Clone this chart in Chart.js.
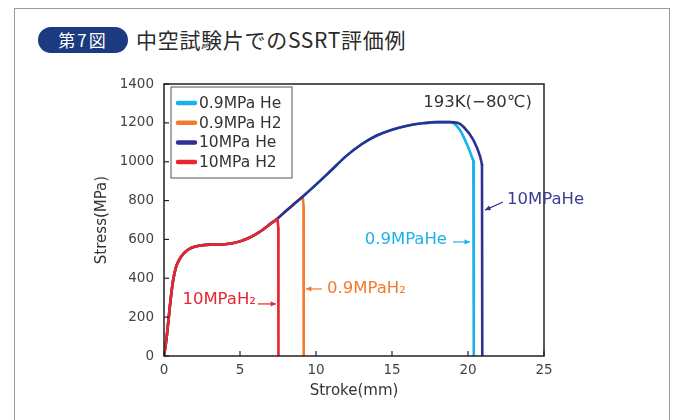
<!DOCTYPE html>
<html>
<head>
<meta charset="utf-8">
<script src="https://cdn.jsdelivr.net/npm/chart.js@4"></script>
<style>
  body { margin: 0; width: 675px; height: 420px; overflow: hidden; background: #fff; font-family: "Noto Sans CJK JP", "Noto Sans", sans-serif; }
  .frame { position: absolute; left: 14px; top: 8px; width: 654px; height: 440px; border: 1.5px solid #9a9a9a; }
  .badge { position: absolute; left: 38px; top: 27px; width: 90px; height: 26px; border-radius: 13px; background: #1b3a80; color: #fff; font-size: 17px; line-height: 26px; text-align: center; letter-spacing: 2px; }
  .title { position: absolute; left: 136px; top: 23px; font-size: 21px; line-height: 32px; color: #2a2a2a; font-weight: 400; letter-spacing: 0.7px; }
  #wrap { position: absolute; left: 0; top: 0; width: 675px; height: 420px; }
</style>
</head>
<body>
<div class="frame"></div>
<div class="badge">第7図</div>
<div class="title">中空試験片でのSSRT評価例</div>
<div id="wrap"><canvas id="ssrtChart" width="675" height="420"></canvas></div>
<script>
const seriesNames = ['0.9MPa He', '0.9MPa H2', '10MPa He', '10MPa H2'];
const seriesColors = ['#1cb1eb', '#f47a2c', '#2e3192', '#e82530'];

// common loading curve (stroke mm / stress MPa)
const baseStroke = [0, 0.15, 0.3, 0.45, 0.6, 0.8, 1.0, 1.3, 1.6, 2.0, 2.5, 3.0, 3.5, 4.0, 4.5, 5.0, 5.5, 6.0, 6.5, 7.0, 7.4];
const baseStress = [0, 80, 190, 300, 390, 460, 495, 528, 548, 562, 570, 573, 573, 575, 580, 590, 605, 625, 650, 680, 703];
const midStroke = [8.0, 8.5, 9.06, 10.0, 10.9, 12.0, 13.0, 14.0, 15.0, 16.0, 17.0, 18.0, 18.8];
const midStress = [745, 779, 816, 882, 948, 1030, 1090, 1135, 1165, 1185, 1198, 1204, 1204];

// softening before rupture
const he09Stroke = [19.1, 19.47, 20.0, 20.35];
const he09Stress = [1196, 1163, 1077, 1005];
const he10Stroke = [19.3, 19.7, 20.35, 20.8, 20.92];
const he10Stress = [1200, 1180, 1112, 1026, 985];

// rupture drops
const dropStroke = [
  [20.35, 20.38],
  [9.06, 9.14, 9.18, 9.19],
  [20.92, 20.94],
  [7.4, 7.48, 7.52, 7.53]
];
const dropStress = [
  [1005, 0],
  [816, 808, 772, 0],
  [985, 0],
  [703, 696, 660, 0]
];

const xTicks = [0, 5, 10, 15, 20, 25];
const yTicks = [0, 200, 400, 600, 800, 1000, 1200, 1400];

function pts(xs, ys) {
  return xs.map((x, i) => ({ x: x, y: ys[i] }));
}

const curves = [
  pts([...baseStroke, ...midStroke, ...he09Stroke], [...baseStress, ...midStress, ...he09Stress]),
  pts([...baseStroke, ...midStroke.slice(0, 3)], [...baseStress, ...midStress.slice(0, 3)]),
  pts([...baseStroke, ...midStroke, ...he10Stroke], [...baseStress, ...midStress, ...he10Stress]),
  pts(baseStroke, baseStress)
];
const drawOrder = [4, 3, 2, 1];

const FONT = '"DejaVu Sans", "Noto Sans", sans-serif';

const decorPlugin = {
  id: 'decor',
  afterDatasetsDraw(chart) {
    const { ctx, chartArea: a, scales: { x, y } } = chart;
    ctx.save();
    // frame
    ctx.strokeStyle = '#222';
    ctx.lineWidth = 1.5;
    ctx.strokeRect(a.left, a.top, a.right - a.left, a.bottom - a.top);
    // inward ticks
    ctx.lineWidth = 1.2;
    xTicks.forEach(v => {
      const px = x.getPixelForValue(v);
      ctx.beginPath(); ctx.moveTo(px, a.bottom); ctx.lineTo(px, a.bottom - 5); ctx.stroke();
    });
    yTicks.forEach(v => {
      const py = y.getPixelForValue(v);
      ctx.beginPath(); ctx.moveTo(a.left, py); ctx.lineTo(a.left + 5, py); ctx.stroke();
    });

    // legend
    const lx = 171, ly = 87;
    ctx.fillStyle = '#fff';
    ctx.fillRect(lx, ly, 121, 91);
    ctx.strokeStyle = '#555';
    ctx.lineWidth = 1;
    ctx.strokeRect(lx, ly, 121, 91);
    ctx.font = '15.5px ' + FONT;
    ctx.textBaseline = 'middle';
    ctx.textAlign = 'left';
    seriesNames.forEach((name, i) => {
      const ry = 103 + i * 19.7;
      ctx.strokeStyle = seriesColors[i];
      ctx.lineWidth = 4.5;
      ctx.lineCap = 'round';
      ctx.beginPath(); ctx.moveTo(178, ry); ctx.lineTo(195, ry); ctx.stroke();
      ctx.fillStyle = '#333';
      ctx.fillText(name, 199, ry + 1);
    });

    // annotations
    const X = v => x.getPixelForValue(v);
    const Y = v => y.getPixelForValue(v);
    function arrow(x1, y1, x2, y2, color) {
      ctx.strokeStyle = color;
      ctx.fillStyle = color;
      ctx.lineWidth = 1.2;
      ctx.lineCap = 'butt';
      ctx.beginPath(); ctx.moveTo(x1, y1); ctx.lineTo(x2, y2); ctx.stroke();
      const ang = Math.atan2(y2 - y1, x2 - x1);
      ctx.beginPath();
      ctx.moveTo(x2, y2);
      ctx.lineTo(x2 - 6 * Math.cos(ang - 0.45), y2 - 6 * Math.sin(ang - 0.45));
      ctx.lineTo(x2 - 6 * Math.cos(ang + 0.45), y2 - 6 * Math.sin(ang + 0.45));
      ctx.closePath();
      ctx.fill();
    }
    ctx.font = '16.5px ' + FONT;
    ctx.textBaseline = 'middle';

    ctx.fillStyle = seriesColors[3];
    ctx.textAlign = 'right';
    ctx.fillText('10MPaH₂', X(6.05), Y(288));
    arrow(X(6.18), Y(268), X(7.37), Y(268), seriesColors[3]);

    arrow(X(10.39), Y(345), X(9.34), Y(345), seriesColors[1]);
    ctx.fillStyle = seriesColors[1];
    ctx.textAlign = 'left';
    ctx.fillText('0.9MPaH₂', X(10.72), Y(345));

    ctx.fillStyle = seriesColors[0];
    ctx.textAlign = 'right';
    ctx.fillText('0.9MPaHe', X(18.62), Y(597));
    arrow(X(19.01), Y(587), X(20.13), Y(587), seriesColors[0]);

    arrow(X(22.3), Y(793), X(21.12), Y(751), seriesColors[2]);
    ctx.fillStyle = '#3b3d95';
    ctx.textAlign = 'left';
    ctx.fillText('10MPaHe', X(22.57), Y(803));

    ctx.fillStyle = '#333';
    ctx.textAlign = 'right';
    ctx.font = '16.5px ' + FONT;
    ctx.fillText('193K(−80℃)', X(24.2), Y(1302));
    ctx.restore();
  }
};

const lineSets = seriesNames.map((name, i) => ({
  label: name,
  data: curves[i],
  borderColor: seriesColors[i],
  borderWidth: 2.6,
  pointRadius: 0,
  cubicInterpolationMode: 'monotone',
  borderCapStyle: 'round',
  order: drawOrder[i]
}));
const dropSets = seriesNames.map((name, i) => ({
  label: name + ' drop',
  data: pts(dropStroke[i], dropStress[i]),
  borderColor: seriesColors[i],
  borderWidth: 2.6,
  pointRadius: 0,
  tension: 0,
  borderCapStyle: 'round',
  borderJoinStyle: 'round',
  order: drawOrder[i]
}));

new Chart(document.getElementById('ssrtChart'), {
  type: 'line',
  data: { datasets: [...lineSets, ...dropSets] },
  options: {
    responsive: false,
    animation: false,
    devicePixelRatio: 1,
    layout: { padding: { left: 0, right: 131, top: 84, bottom: 0 } },
    plugins: { legend: { display: false }, tooltip: { enabled: false } },
    scales: {
      x: {
        type: 'linear', min: 0, max: 25,
        afterFit: s => { s.height = 64; },
        grid: { display: false, drawTicks: false },
        border: { display: false },
        ticks: { stepSize: 5, padding: 6, color: '#444', font: { family: FONT, size: 13.5 } },
        title: { display: true, text: 'Stroke(mm)', color: '#333', font: { family: FONT, size: 15 }, padding: { top: 0, bottom: 20 } }
      },
      y: {
        min: 0, max: 1400,
        afterFit: s => { s.width = 164; },
        grid: { display: false, drawTicks: false },
        border: { display: false },
        ticks: { stepSize: 200, padding: 10, color: '#444', font: { family: FONT, size: 13.5 }, callback: v => String(v) },
        title: { display: true, text: 'Stress(MPa)', color: '#333', font: { family: FONT, size: 15 }, padding: { top: 93, bottom: 0 } }
      }
    }
  },
  plugins: [decorPlugin]
});
</script>
</body>
</html>
